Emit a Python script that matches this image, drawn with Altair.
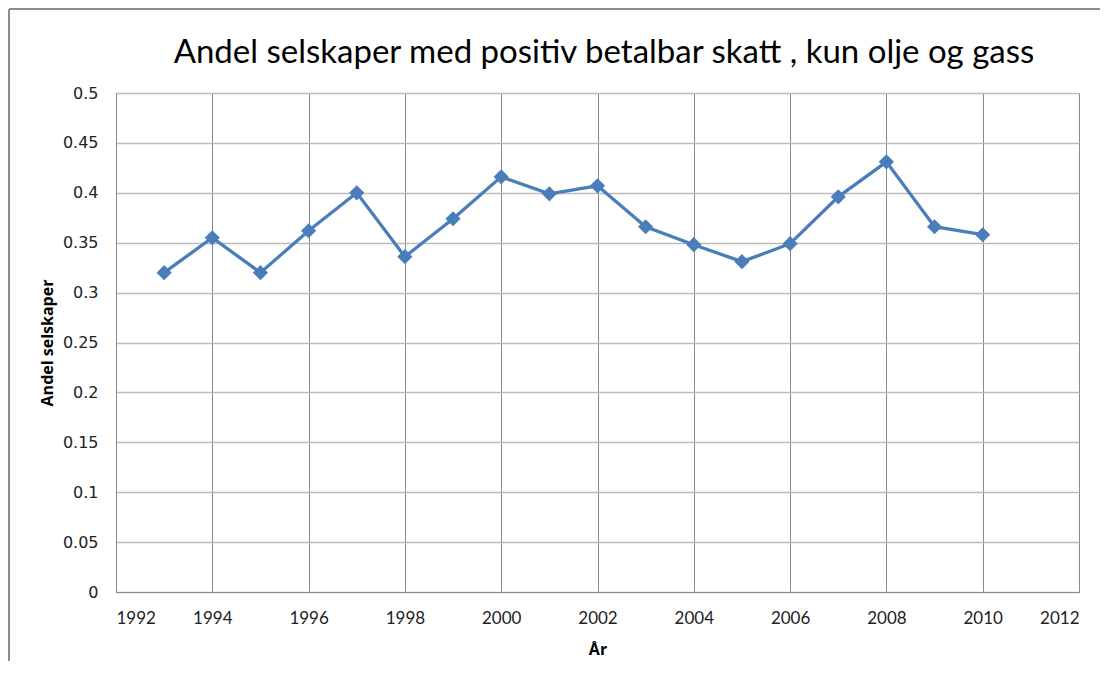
import altair as alt
import pandas as pd

years = [1993, 1994, 1995, 1996, 1997, 1998, 1999, 2000, 2001, 2002,
         2003, 2004, 2005, 2006, 2007, 2008, 2009, 2010]
andel = [0.320, 0.355, 0.320, 0.362, 0.400, 0.336, 0.374, 0.416, 0.399, 0.407,
         0.366, 0.348, 0.331, 0.349, 0.396, 0.431, 0.366, 0.358]
title_text = "Andel selskaper med positiv betalbar skatt , kun olje og gass"

df = pd.DataFrame({"year": years, "andel": andel})

x_ticks = list(range(1992, 2013, 2))
y_ticks = [round(i * 0.05, 2) for i in range(11)]

W, H = 963, 499

x = alt.X("year:Q", scale=alt.Scale(domain=[1992, 2012], nice=False, zero=False),
          axis=alt.Axis(values=x_ticks, format="d", title="År", titleFontWeight="bold",
                        titleFontSize=16, titlePadding=15, labelFontSize=17, labelPadding=18,
                        ticks=False, domainColor="#888888", gridColor="#888888",
                        labelColor="#222", titleColor="#000", labelFont="Lato",
                        titleFont="Open Sans"))
y = alt.Y("andel:Q", scale=alt.Scale(domain=[0, 0.5], nice=False),
          axis=alt.Axis(values=y_ticks, format="~g", title="Andel selskaper",
                        titleFontWeight="bold",
                        titleFontSize=16, titlePadding=7, labelFontSize=16, labelPadding=18,
                        ticks=False, domainColor="#888888", gridColor="#bbbbbb",
                        gridWidth=1.5, labelColor="#222", titleColor="#000",
                        labelFont="DejaVu Sans", titleFont="Open Sans"))

base = alt.Chart(df)
line = base.mark_line(color="#4a7ebb", strokeWidth=3.3).encode(x=x, y=y)
pts = base.mark_point(shape="diamond", filled=True, size=230, color="#4a7ebb",
                      opacity=1).encode(x="year:Q", y="andel:Q")

left_edge = base.mark_rule(stroke="#8c8c8c", strokeWidth=2).encode(
    x=alt.value(-107), y=alt.value(-84), y2=alt.value(H + 69))
top_edge = base.mark_rule(stroke="#8c8c8c", strokeWidth=2).encode(
    x=alt.value(-107), x2=alt.value(W + 21), y=alt.value(-84))

title = alt.Chart(pd.DataFrame({"t": [title_text]})).mark_text(
    font="Lato", fontSize=33, color="#000", align="center", baseline="alphabetic"
).encode(text="t:N", x=alt.value(488), y=alt.value(-30))

chart = alt.layer(left_edge, top_edge, line, pts, title).properties(
    width=W, height=H,
    padding={"left": 108, "top": 85, "right": 21, "bottom": 69},
    autosize=alt.AutoSizeParams(type="none"),
).configure_view(stroke="#888888", strokeWidth=1).configure_axis(gridOpacity=1)

chart.save("out.html", embed_options={"renderer": "svg", "actions": False})
